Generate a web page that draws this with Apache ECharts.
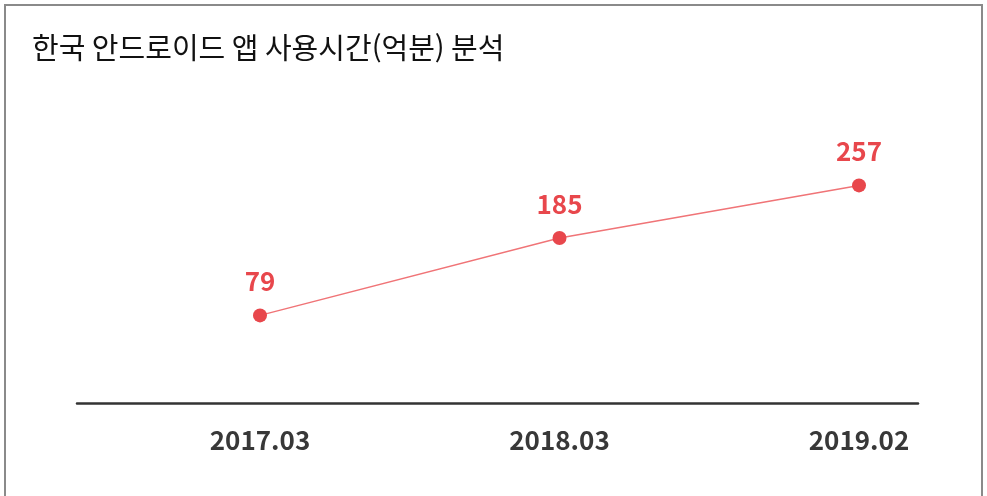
<!DOCTYPE html>
<html lang="ko">
<head>
    <meta charset="UTF-8">
    <title>한국 안드로이드 앱 사용시간</title>
    <script src="https://cdn.jsdelivr.net/npm/echarts@6/dist/echarts.min.js"></script>
    <style type="text/css">
        html, body { margin: 0; padding: 0; background: #fff; }
        #frame {
            position: absolute; left: 4px; top: 4px; width: 979px; height: 500px;
            border: 2px solid #8a8a8a; border-bottom: none; box-sizing: border-box;
        }
        #main { position: absolute; left: 0; top: 0; width: 987px; height: 496px; }
    </style>
</head>
<body>
    <div id="frame"></div>
    <div id="main"></div>
    <script type="text/javascript">
    // 데이터
    var categories = ['2017.03', '2018.03', '2019.02'];
    var usageMinutes = [79, 185, 257];

    var font = '"Noto Sans CJK KR", "Noto Sans", sans-serif';
    var myChart = echarts.init(document.getElementById('main'));

    var option = {
        animation: false,
        title: {
            text: '한국 안드로이드 앱 사용시간(억분) 분석',
            left: 27,
            top: 28,
            textStyle: { fontFamily: font, fontSize: 29, fontWeight: 'normal', color: '#111' }
        },
        grid: [
            { left: 260, right: 128, top: 154, bottom: 93 },
            { left: 77, right: 69, top: 154, bottom: 93 }
        ],
        xAxis: [{
            type: 'category',
            gridIndex: 0,
            data: categories,
            boundaryGap: false,
            axisLine: { show: false },
            axisTick: { show: false },
            axisLabel: {
                margin: 24,
                fontFamily: font, fontSize: 26, fontWeight: 'bold', color: '#383838'
            }
        }, {
            type: 'category',
            gridIndex: 1,
            data: [''],
            axisLine: { show: true, lineStyle: { color: '#333', width: 2.5 } },
            axisTick: { show: false },
            axisLabel: { show: false }
        }],
        yAxis: [{
            type: 'value',
            gridIndex: 0,
            min: -41,
            max: 300,
            show: false
        }, {
            type: 'value',
            gridIndex: 1,
            show: false
        }],
        series: [{
            name: '사용시간',
            type: 'line',
            xAxisIndex: 0,
            yAxisIndex: 0,
            data: usageMinutes,
            symbol: 'circle',
            symbolSize: 14,
            itemStyle: { color: '#e8474c' },
            lineStyle: { color: '#f07477', width: 1.5 },
            label: {
                show: true,
                position: 'top',
                distance: 14,
                fontFamily: font, fontSize: 26, fontWeight: 'bold', color: '#e8474c'
            }
        }]
    };
    myChart.setOption(option);
    </script>
</body>
</html>
